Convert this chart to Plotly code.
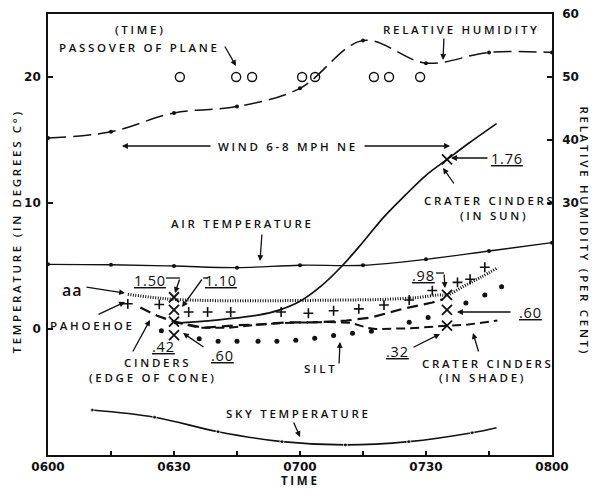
import plotly.graph_objects as go

# ---------------- data (time = minutes after 0600) ----------------
rh_t = [0, 15, 30, 45, 60, 75, 90, 105, 120]
rh_v = [40.3, 41.3, 44.3, 45.3, 48.2, 55.8, 52.2, 53.9, 53.9]          # relative humidity (%)

plane_t = [31.4, 44.8, 48.6, 60.5, 63.6, 77.6, 81.2, 88.6]              # passover of plane
plane_v = [20, 20, 20, 20, 20, 20, 20, 20]

air_t = [0, 15, 30, 45, 60, 75, 90, 105, 120]
air_v = [5.13, 5.1, 5.0, 4.87, 5.06, 5.06, 5.53, 6.19, 6.85]

sky_t = [10.5, 25.4, 40.5, 55.7, 70.8, 85.9, 101, 106.8]
sky_v = [-6.43, -7.0, -8.15, -8.94, -9.2, -8.94, -8.23, -7.83]

sun_t = [30, 40, 50, 55, 60, 65, 70, 75, 80, 85, 90, 95, 100, 106.8]
sun_v = [0.45, 0.7, 1.1, 1.5, 2.2, 3.4, 5.0, 6.9, 8.9, 10.6, 12.2, 13.45, 14.7, 16.3]

aa_t = [19, 25, 30, 40, 55, 70, 80, 88, 93, 95, 99, 103, 107]
aa_v = [2.75, 2.5, 2.35, 2.25, 2.25, 2.3, 2.35, 2.5, 2.7, 2.7, 3.4, 4.1, 4.85]

pah_t = [19, 26.5, 33.5, 38, 43.5, 55.5, 62, 68, 74, 80, 86, 91.5, 97.5, 100.5, 104]
pah_v = [2.0, 1.95, 1.35, 1.35, 1.35, 1.35, 1.25, 1.45, 1.6, 1.9, 2.3, 3.05, 3.7, 3.95, 4.9]

cin_t = [22, 26, 30, 37, 45, 50, 57, 63, 71, 77, 84.5, 91.5, 94]
cin_v = [1.7, 1.05, 0.58, 0.1, 0.3, 0.35, 0.53, 0.53, 0.66, 0.92, 1.6, 2.1, 2.35]

shade_t = [30, 36, 43, 50, 58, 66, 72, 76, 78, 86, 95, 100, 107]
shade_v = [0.58, 0.1, 0.1, 0.35, 0.5, 0.55, 0.5, 0.1, 0.0, 0.05, 0.26, 0.35, 0.67]

silt_t = [27, 36, 40.5, 45, 50, 54.5, 59, 63.5, 68, 72.5, 77, 86, 90.5, 99.5, 104, 108]
silt_v = [-0.13, -0.78, -0.97, -0.97, -0.97, -0.97, -0.9, -0.73, -0.52, -0.34, -0.18,
          0.53, 0.92, 2.06, 2.69, 3.35]

cross_t = [30, 30, 30, 30, 95, 95, 95, 95]
cross_v = [2.52, 1.51, 0.58, -0.48, 13.47, 2.7, 1.51, 0.26]

x_tickvals = [0, 30, 60, 90, 120]
x_ticktext = ["0600", "0630", "0700", "0730", "0800"]
y_tickvals = [-10, 0, 10, 20]
y_ticktext = ["", "0", "10", "20"]
y2_tickvals = [30, 40, 50, 60]

INK = "#111111"
FONT = "Open Sans"
SP = 2.7

fig = go.Figure()

fig.add_trace(go.Scatter(x=rh_t, y=rh_v, yaxis="y2", mode="lines+markers",
                         line=dict(color=INK, width=1.5, dash="18px,7px", shape="spline"),
                         marker=dict(size=4, color=INK)))
fig.add_trace(go.Scatter(x=plane_t, y=plane_v, mode="markers",
                         marker=dict(symbol="circle-open", size=9, color=INK, line=dict(width=1.4))))
fig.add_trace(go.Scatter(x=air_t, y=air_v, mode="lines+markers",
                         line=dict(color=INK, width=1.3, shape="spline"),
                         marker=dict(size=4, color=INK)))
fig.add_trace(go.Scatter(x=sky_t, y=sky_v, mode="lines+markers",
                         line=dict(color=INK, width=1.6, shape="spline"),
                         marker=dict(size=[4] * (len(sky_t) - 1) + [0], color=INK)))
fig.add_trace(go.Scatter(x=sun_t, y=sun_v, mode="lines",
                         line=dict(color=INK, width=1.7, shape="spline")))
fig.add_trace(go.Scatter(x=aa_t, y=aa_v, mode="lines",
                         line=dict(color=INK, width=3.0, dash="1px,1.5px", shape="spline")))
fig.add_trace(go.Scatter(x=pah_t, y=pah_v, mode="markers",
                         marker=dict(symbol="cross-thin", size=7, color=INK, line=dict(width=1.6, color=INK))))
fig.add_trace(go.Scatter(x=cin_t, y=cin_v, mode="lines",
                         line=dict(color=INK, width=2.2, dash="11px,6px")))
fig.add_trace(go.Scatter(x=shade_t, y=shade_v, mode="lines",
                         line=dict(color=INK, width=2.0, dash="9px,5px")))
fig.add_trace(go.Scatter(x=silt_t, y=silt_v, mode="markers",
                         marker=dict(size=5, color=INK)))
fig.add_trace(go.Scatter(x=cross_t, y=cross_v, mode="markers",
                         marker=dict(symbol="x-thin", size=10, color=INK, line=dict(width=1.8, color=INK))))


# ---------------- annotation helpers (page pixel -> data / paper) ----------------
def P(px, py):
    return (px - 48) / 4.2, (329 - py) / 12.6


def PP(px, py):
    return (px - 48) / 504, (455 - py) / 441


ann = []


def lab(text, px, py, size=11.5, sp=SP, weight=600):
    x, y = P(px, py)
    t = f'<span style="letter-spacing:{sp}px">{text}</span>'
    ann.append(dict(x=x, y=y, xref="x", yref="y", text=t, showarrow=False,
                    xanchor="center", yanchor="middle",
                    font=dict(family=FONT, size=size, color=INK, weight=weight)))


def arr(tx, ty, hx, hy, head=2):
    x, y = P(hx, hy)
    ax, ay = P(tx, ty)
    ann.append(dict(x=x, y=y, ax=ax, ay=ay, xref="x", yref="y", axref="x", ayref="y",
                    text="", showarrow=True, arrowhead=head, arrowsize=0.9,
                    arrowwidth=1.3, arrowcolor=INK, standoff=0, startstandoff=0))


shapes = []


def seg(x0, y0, x1, y1):
    a, b = P(x0, y0)
    c, d = P(x1, y1)
    shapes.append(dict(type="line", xref="x", yref="y", x0=a, y0=b, x1=c, y1=d,
                       line=dict(color=INK, width=1.3)))


lab("(TIME)", 140, 29)
lab("PASSOVER OF PLANE", 139, 47)
arr(224, 45, 236, 66)
lab("RELATIVE HUMIDITY", 461, 29)
arr(444, 37, 443, 60)
lab("WIND 6-8 MPH NE", 287.5, 146)
arr(212, 146, 122, 146)
arr(363, 146, 450, 146)
lab("<u>1.76</u>", 507, 158, size=14.5, sp=0.8, weight=500)
arr(489, 158, 451, 158)
lab("CRATER CINDERS", 490, 200)
lab("(IN SUN)", 494, 215)
arr(455, 185, 443, 168)
lab("AIR TEMPERATURE", 242, 223)
arr(262, 233, 260, 261)
lab("aa", 72, 290, size=16, sp=1)
arr(85, 287, 125, 293)
lab("PAHOEHOE", 92, 325)
arr(97, 315, 125, 302)
lab("<u>1.50</u>", 150, 280, size=14.5, sp=0.8, weight=500)
seg(166, 278, 180, 278)
arr(180, 278, 175, 293)
lab("<u>1.10</u>", 221, 280, size=14.5, sp=0.8, weight=500)
seg(203, 278, 208, 278)
arr(203, 278, 182, 307)
lab("CINDERS", 157, 362)
lab("(EDGE OF CONE)", 152.5, 377)
arr(132, 353, 150, 320)
lab("<u>.42</u>", 163, 346, size=14.5, sp=0.8, weight=500)
lab("<u>.60</u>", 222, 355, size=14.5, sp=0.8, weight=500)
arr(205, 348, 183, 333)
lab("SILT", 320, 368)
arr(339, 365, 340, 342)
lab("<u>.32</u>", 397.5, 351, size=14.5, sp=0.8, weight=500)
arr(412, 348, 440, 334)
lab("CRATER CINDERS", 488, 363)
lab("(IN SHADE)", 482.5, 377)
arr(479, 353, 473, 333)
lab("<u>.60</u>", 530, 312, size=14.5, sp=0.8, weight=500)
arr(512, 312, 457, 312)
lab("<u>.98</u>", 423, 275, size=14.5, sp=0.8, weight=500)
seg(436, 273, 444, 273)
arr(444, 273, 445, 288)
lab("SKY TEMPERATURE", 298, 413)
arr(293, 421, 300, 437)

# axis titles
for text, px, py, ang, w in [("TEMPERATURE (IN DEGREES C°)", 16, 231.5, -90, 600),
                             ("RELATIVE HUMIDITY (PER CENT)", 584, 231.5, 90, 600),
                             ("TIME", 300, 480, 0, 700)]:
    x, y = PP(px, py)
    ann.append(dict(x=x, y=y, xref="paper", yref="paper", showarrow=False,
                    text=f'<span style="letter-spacing:{SP}px">{text}</span>', textangle=ang,
                    xanchor="center", yanchor="middle",
                    font=dict(family=FONT, size=11.5, color=INK, weight=w)))

tickfont = dict(family="DejaVu Sans", size=12, color=INK, weight="bold")

fig.update_layout(
    width=600, height=491,
    margin=dict(l=48, r=48, t=14, b=36, autoexpand=False),
    paper_bgcolor="white", plot_bgcolor="white",
    showlegend=False,
    annotations=ann, shapes=shapes,
    xaxis=dict(range=[0, 120], tickvals=x_tickvals, ticktext=x_ticktext,
               ticks="inside", ticklen=4, tickwidth=1.5, tickcolor=INK,
               minor=dict(tickvals=[15, 45, 75, 105], ticks="inside", ticklen=4, tickwidth=1.5, tickcolor=INK),
               showgrid=False, zeroline=False, showline=True, linecolor=INK, linewidth=1.6,
               mirror=True, tickfont=tickfont, ticklabelstandoff=0, automargin=False),
    yaxis=dict(range=[-10, 25], tickvals=y_tickvals, ticktext=y_ticktext,
               ticks="inside", ticklen=5, tickwidth=1.5, tickcolor=INK,
               showgrid=False, zeroline=False, showline=True, linecolor=INK, linewidth=1.6,
               mirror=True, tickfont=tickfont, ticklabelstandoff=3, automargin=False),
    yaxis2=dict(range=[-10, 60], tickvals=y2_tickvals, overlaying="y", side="right",
                ticks="inside", ticklen=5, tickwidth=1.5, tickcolor=INK,
                showgrid=False, zeroline=False, showline=True, linecolor=INK, linewidth=1.6,
                tickfont=tickfont, ticklabelstandoff=6, automargin=False),
)

fig.write_html("out.html", config={"displayModeBar": False},
               post_script="document.body.style.margin='0px';")
